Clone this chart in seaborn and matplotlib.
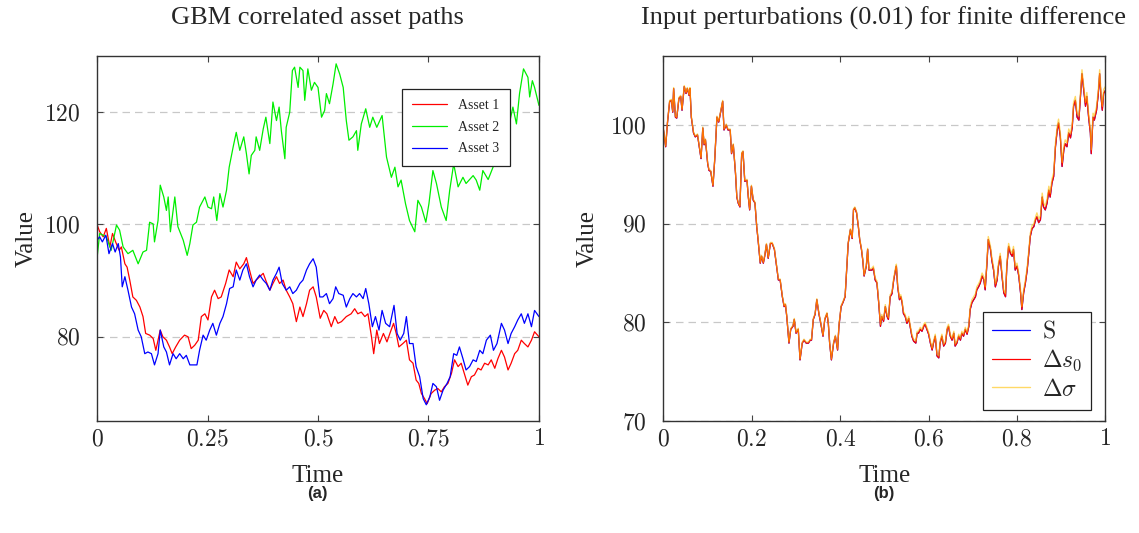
import matplotlib
matplotlib.use("Agg")
import matplotlib.pyplot as plt
import pandas as pd
import seaborn as sns

# ---- (a) correlated GBM paths ----
asset1_t = [0, .006, .014, .021, .029, .035, .042, .050, .055, .063,
            .068, .074, .081, .089, .097, .104, .110, .119, .127, .133,
            .138, .143, .149, .157, .164, .170, .178, .187, .198, .206,
            .213, .221, .229, .236, .244, .251, .259, .266, .274, .281,
            .291, .299, .308, .315, .323, .332, .338, .345, .353, .360,
            .368, .376, .383, .391, .398, .406, .413, .421, .428, .436,
            .443, .451,
            .459, .466, .474, .481, .489, .496, .505, .513, .520, .530,
            .538, .545, .553, .564, .575, .583, .590, .598, .606, .613,
            .621, .626, .633, .639, .648, .656, .664, .671, .677, .683,
            .692, .700, .707, .715, .722, .728, .734, .741, .747, .756,
            .764, .771, .779, .786, .794, .802, .809, .817, .824, .832,
            .839, .847, .854, .862, .869, .877, .885, .892, .900, .907,
            .915, .922, .930, .937, .945, .952, .960, .967, .975, .983,
            .990, 1.0]
asset1_v = [100.0, 98.7, 97.8, 99.3, 96.0, 98.4, 96.9, 95.4, 96.0, 93.0,
            92.4, 90.1, 87.1, 86.5, 85.3, 83.6, 80.6, 80.3, 79.7, 77.6,
            79.4, 81.2, 80.0, 79.4, 78.2, 77.0, 78.2, 79.4, 80.3, 80.0,
            77.9, 78.5, 79.4, 83.6, 84.1, 83.0, 87.1, 88.3, 86.8, 87.1,
            89.5, 91.9, 90.7, 93.3, 92.1, 93.0, 94.1, 91.9, 89.5, 90.1,
            90.7, 91.3, 89.8, 88.3, 89.5, 90.7, 89.5, 90.1, 88.3, 87.1,
            85.9, 82.7,
            85.3, 83.6, 85.9, 88.3, 88.9, 87.1, 83.3, 84.7, 84.1, 81.8,
            83.6, 82.4, 82.7, 83.6, 84.1, 85.0, 84.1, 84.4, 83.6, 84.1,
            80.0, 77.0, 81.2, 78.8, 80.6, 79.1, 80.9, 82.4, 80.6, 78.2,
            78.8, 79.4, 75.9, 75.3, 72.3, 71.7, 69.9, 69.0, 68.1, 69.9,
            70.5, 70.8, 70.2, 71.1, 71.7, 73.5, 75.9, 74.7, 75.3, 73.2,
            71.4, 72.9, 73.2, 74.4, 74.1, 75.3, 75.0, 75.9, 74.4, 76.1,
            77.6, 76.4, 74.1, 75.3, 77.0, 77.6, 79.4, 78.8, 78.2, 79.4,
            80.9, 80.0]

asset2_t = [0, .006, .021, .032, .044, .051, .059, .070, .081, .093,
            .104, .112, .119, .127, .130, .138, .143, .151, .157, .161,
            .166, .176, .183, .195, .204, .210, .217, .225, .232, .244,
            .251, .259, .264, .271, .278, .285, .293, .299, .308, .315,
            .323, .332, .338, .344, .349, .357, .360, .368, .376, .382,
            .391, .398, .406, .412, .417, .425, .428, .436, .442, .447,
            .455,
            .459, .466, .470, .477, .485, .492, .500, .508, .515, .519,
            .526, .534, .541, .549, .557, .564, .570, .579, .587, .590,
            .598, .608, .617, .624, .633, .645, .655, .666, .674, .681,
            .688, .698, .707, .719, .726, .734, .744, .751, .760, .768,
            .779, .790, .798, .807, .817, .828, .835, .851, .858, .866,
            .873, .885, .900, .915, .928, .941, .949, .956, .965, .975,
            .979, .985, .990, 1.0]
asset2_v = [94.0, 98.4, 97.8, 95.4, 99.9, 99.0, 96.0, 94.8, 95.4, 93.0,
            95.1, 95.4, 100.4, 100.1, 96.9, 100.7, 107.0, 104.9, 102.5, 104.9,
            98.7, 104.9, 99.6, 97.2, 94.5, 96.6, 99.9, 100.4, 103.1, 104.9,
            103.1, 102.8, 104.9, 100.7, 105.5, 103.1, 106.1, 110.2, 113.8, 116.4,
            113.2, 115.6, 112.6, 109.0, 112.3, 113.2, 115.6, 113.2, 117.0, 119.1,
            114.4, 121.8, 118.5, 120.9, 116.7, 111.7, 117.3, 120.0, 127.4, 128.0,
            124.4,
            128.0, 127.4, 122.1, 127.7, 123.9, 125.3, 124.4, 119.1, 120.3, 123.3,
            121.5, 125.0, 128.6, 126.8, 124.4, 118.5, 115.0, 115.6, 116.7, 113.2,
            117.9, 120.6, 117.3, 119.1, 117.3, 119.4, 112.0, 108.4, 110.2, 106.7,
            107.9, 103.7, 100.7, 98.7, 104.3, 103.1, 100.4, 103.7, 109.6, 107.3,
            103.1, 100.7, 106.1, 110.8, 106.7, 108.4, 107.3, 108.7, 107.9, 106.1,
            109.6, 108.0, 111.0, 114.0, 116.1, 120.9, 117.9, 123.3, 127.7, 126.2,
            122.7, 125.6, 124.4, 121.2]

asset3_t = [0, .006, .012, .020, .027, .035, .041, .048, .053, .057,
            .063, .070, .078, .085, .093, .100, .108, .115, .123, .130,
            .138, .143, .151, .157, .164, .172, .179, .187, .195, .202,
            .210, .217, .226, .232, .240, .247, .255, .262, .270, .278,
            .285, .293, .300, .308, .315, .323, .330, .338, .345, .353,
            .360, .368, .376, .383, .391, .398, .406, .412, .419, .428,
            .436, .443, .451,
            .459, .466, .474, .481, .489, .496, .504, .511, .519, .526,
            .534, .540, .547, .557, .564, .572, .579, .587, .594, .602,
            .608, .615, .623, .630, .638, .645, .653, .662, .672, .679,
            .686, .694, .700, .707, .715, .722, .730, .738, .745, .753,
            .760, .768, .775, .783, .792, .799, .807, .814, .820, .828,
            .835, .843, .851, .858, .866, .873, .881, .890, .897, .905,
            .915, .922, .930, .937, .945, .952, .960, .967, .975, .983,
            .990, 1.0]
asset3_v = [97.2, 97.8, 96.9, 98.1, 94.8, 96.6, 95.1, 96.6, 94.2, 88.9,
            90.7, 88.3, 85.3, 84.1, 81.2, 80.0, 77.0, 77.3, 77.0, 75.0,
            77.0, 81.2, 78.2, 77.3, 75.0, 77.0, 76.1, 77.0, 76.1, 76.7,
            75.0, 75.0, 75.0, 77.6, 80.3, 79.4, 81.2, 82.4, 80.3, 82.4,
            83.6, 85.9, 88.6, 88.9, 91.9, 90.1, 91.9, 93.0, 90.7, 88.9,
            90.1, 91.0, 90.1, 89.5, 88.3, 90.1, 91.3, 92.4, 89.5, 88.3,
            88.9, 87.7, 88.3,
            89.5, 90.1, 91.9, 93.0, 93.9, 92.4, 87.1, 87.1, 87.7, 85.9,
            86.8, 88.9, 87.7, 87.4, 85.3, 86.8, 87.7, 87.1, 87.7, 86.8,
            88.6, 85.9, 81.8, 83.6, 81.2, 84.7, 82.4, 81.8, 85.6, 80.6,
            79.4, 80.6, 83.6, 78.8, 78.8, 74.7, 72.9, 69.0, 67.9, 69.3,
            71.7, 71.1, 68.7, 70.5, 71.7, 72.9, 77.0, 76.7, 78.2, 76.1,
            74.1, 74.7, 75.9, 75.6, 77.6, 77.0, 79.4, 80.3, 77.6, 78.8,
            82.4, 81.2, 78.8, 80.6, 81.8, 83.0, 84.1, 82.4, 84.1, 81.8,
            84.7, 83.6]

# ---- (b) base path and bumped paths ----
path_t = [0.000, .005, .009, .014, .018, .021, .023, .027, .030, .035,
          .039, .042, .047, .051, .054, .058, .060, .063, .068, .072,
          .077, .081, .085, .089, .092, .095, .100, .103, .107, .112,
          .116, .121, .125, .130, .134, .137, .142, .146, .151, .154,
          .158, .163, .166, .169, .173, .177, .180, .184, .189, .192,
          .195, .199, .203, .207, .211, .214, .219, .222, .226, .229,
          .233, .237, .242, .246, .251, .255, .260, .264, .269, .273,
          .276, .279, .284, .288, .293, .296, .300, .305, .309, .314,
          .318, .323, .328, .332, .335, .339, .343, .347, .352, .356,
          .361, .365, .370, .373, .376, .380, .385, .389, .394, .397,
          .402, .406, .411, .415, .418, .423, .427, .430, .433, .437,
          .441, .444, .448, .451, .454, .459, .462, .465,
          .472, .475, .479, .483, .487, .491, .494, .498, .502, .506,
          .509, .513, .517, .521, .525, .527, .530, .534, .537, .540,
          .543, .547, .551, .555, .558, .562, .566, .571, .574, .577,
          .581, .585, .589, .592, .596, .600, .604, .608, .611, .615,
          .619, .623, .626, .630, .634, .638, .642, .645, .649, .653,
          .657, .660, .664, .668, .672, .675, .679, .683, .687, .691,
          .694, .698, .702, .706, .709, .713, .717, .721, .725, .728,
          .732, .735, .740, .743, .747, .751, .755, .758, .762, .766,
          .770, .774, .777, .781, .785, .789, .792, .796, .800, .804,
          .808, .811, .815, .819, .823, .826, .830, .834, .838, .842,
          .845, .849, .853, .857, .860, .864, .868, .872, .875, .879,
          .883, .887, .891, .894, .898, .902, .906, .909, .913, .917,
          .921, .925, .928, .932, .936, .940, .943, .947, .951, .955,
          .958, .962, .966, .968, .972, .975, .980, .984, .987, .990,
          .993, .996, 1.0]
s_vals = [99.5, 97.8, 100.2, 102.4, 102.5, 101.3, 103.7, 100.8, 100.7, 102.7,
          102.9, 101.5, 103.9, 103.2, 103.7, 103.0, 103.7, 100.8, 99.2, 98.8,
          99.0, 97.8, 96.6, 99.7, 98.0, 98.5, 96.1, 95.4, 95.3, 93.8,
          96.5, 100.8, 100.3, 101.5, 102.4, 99.5, 100.0, 99.5, 99.5, 97.1,
          98.0, 95.1, 92.7, 92.1, 91.7, 97.1, 97.3, 94.3, 94.4, 92.7,
          91.4, 93.8, 92.4, 92.1, 89.7, 88.4, 86.0, 86.7, 86.0, 86.7,
          87.9, 86.5, 88.0, 88.0, 87.4, 86.0, 84.3, 84.3, 82.6, 81.6,
          81.8, 80.6, 77.9, 79.3, 79.6, 80.3, 78.9, 79.3, 76.2, 77.9,
          78.2, 77.9, 77.9, 78.2, 78.2, 80.3, 80.8, 82.3, 80.8, 79.9,
          78.6, 80.3, 80.9, 79.9, 77.9, 76.2, 77.9, 78.6, 77.2, 79.6,
          81.6, 82.0, 82.6, 85.7, 88.0, 89.4, 88.5, 91.4, 91.6, 91.1,
          89.7, 88.4, 87.4, 86.3, 84.7, 85.7, 87.4, 85.3,
          85.3, 85.5, 84.3, 84.0, 82.0, 79.6, 80.6, 80.1, 81.6, 80.6,
          80.3, 82.6, 82.9, 84.3, 85.3, 85.7, 83.6, 82.3, 82.6, 82.0,
          80.9, 80.6, 79.9, 80.4, 79.6, 78.6, 78.1, 77.9, 78.9, 78.9,
          79.3, 79.1, 79.6, 79.8, 79.3, 78.8, 77.9, 77.2, 77.9, 78.6,
          76.6, 76.4, 77.9, 78.6, 77.6, 77.9, 79.3, 79.6, 78.6, 78.2,
          78.9, 77.6, 77.9, 78.6, 78.2, 78.9, 78.6, 79.3, 78.8, 79.6,
          81.3, 82.0, 82.3, 82.6, 83.3, 83.6, 84.0, 84.7, 84.3, 83.3,
          86.0, 88.4, 87.4, 86.3, 85.3, 83.6, 84.3, 85.7, 86.7, 84.7,
          83.0, 82.6, 85.7, 87.7, 87.0, 86.7, 87.4, 85.3, 85.7, 84.7,
          83.0, 81.3, 83.0, 84.0, 85.3, 86.7, 88.7, 89.5, 89.7, 90.4,
          90.7, 90.1, 90.4, 92.7, 91.7, 91.4, 92.1, 93.4, 92.7, 94.1,
          94.8, 97.8, 99.5, 100.2, 98.8, 95.8, 97.5, 98.1, 97.8, 99.2,
          98.7, 99.8, 101.9, 102.5, 100.8, 100.5, 102.5, 105.2, 103.5, 101.9,
          102.9, 100.8, 99.2, 97.1, 100.8, 100.5, 101.5, 103.2, 105.2, 102.9,
          101.5, 103.2, 103.5]
# s0 + 0.01 is indistinguishable from S at this scale
ds0_vals = s_vals
dsigma_vals = [99.6, 97.9, 100.3, 102.5, 102.6, 101.4, 103.8, 100.9, 100.8, 102.8,
               103.0, 101.6, 104.0, 103.3, 103.8, 103.1, 103.8, 100.9, 99.3, 98.9,
               99.1, 97.9, 96.7, 99.8, 98.1, 98.6, 96.2, 95.5, 95.4, 93.9,
               96.6, 100.9, 100.4, 101.6, 102.5, 99.6, 100.1, 99.6, 99.6, 97.2,
               98.1, 95.2, 92.8, 92.2, 91.8, 97.2, 97.4, 94.4, 94.5, 92.8,
               91.5, 93.9, 92.5, 92.2, 89.8, 88.5, 86.1, 86.8, 86.1, 86.8,
               88.0, 86.6, 88.1, 88.1, 87.5, 86.1, 84.4, 84.4, 82.7, 81.7,
               81.9, 80.7, 78.0, 79.4, 79.7, 80.4, 79.0, 79.4, 76.3, 78.0,
               78.3, 78.0, 78.0, 78.3, 78.3, 80.4, 80.9, 82.4, 80.9, 80.0,
               78.7, 80.4, 81.0, 80.0, 78.0, 76.3, 78.0, 78.7, 77.3, 79.7,
               81.7, 82.1, 82.7, 85.8, 88.1, 89.5, 88.6, 91.5, 91.7, 91.2,
               89.8, 88.5, 87.5, 86.4, 84.8, 85.8, 87.5, 85.4,
               85.5, 85.7, 84.5, 84.2, 82.2, 79.8, 80.8, 80.3, 81.8, 80.8,
               80.5, 82.8, 83.1, 84.5, 85.5, 85.9, 83.8, 82.5, 82.8, 82.2,
               81.1, 80.8, 80.1, 80.6, 79.8, 78.8, 78.3, 78.1, 79.1, 79.1,
               79.5, 79.3, 79.8, 80.0, 79.5, 79.0, 78.1, 77.4, 78.1, 78.8,
               76.8, 76.6, 78.1, 78.8, 77.8, 78.1, 79.5, 79.8, 78.8, 78.4,
               79.1, 77.8, 78.1, 78.8, 78.4, 79.1, 78.8, 79.5, 79.0, 79.8,
               81.6, 82.3, 82.6, 82.9, 83.6, 83.9, 84.3, 85.0, 84.6, 83.6,
               86.3, 88.7, 87.7, 86.6, 85.6, 83.9, 84.6, 86.0, 87.0, 85.0,
               83.3, 82.9, 86.0, 88.0, 87.3, 87.0, 87.7, 85.6, 86.0, 85.0,
               83.3, 81.6, 83.3, 84.3, 85.6, 87.0, 89.0, 89.8, 90.0, 90.7,
               91.1, 90.5, 90.8, 93.1, 92.1, 91.8, 92.5, 93.8, 93.1, 94.5,
               95.2, 98.2, 99.9, 100.6, 99.2, 96.2, 97.9, 98.5, 98.2, 99.6,
               99.1, 100.2, 102.3, 102.9, 101.2, 100.9, 102.9, 105.6, 103.9, 102.3,
               103.3, 101.2, 99.6, 97.5, 101.2, 100.9, 101.9, 103.6, 105.6, 103.3,
               101.9, 103.6, 103.9]

left_xticks = [0, 0.25, 0.5, 0.75, 1]
left_xlabels = ["0", "0.25", "0.5", "0.75", "1"]
left_yticks = [80, 100, 120]
right_xticks = [0, 0.2, 0.4, 0.6, 0.8, 1]
right_xlabels = ["0", "0.2", "0.4", "0.6", "0.8", "1"]
right_yticks = [70, 80, 90, 100]

sns.set_style("ticks")
plt.rcParams["font.family"] = ["Liberation Serif", "DejaVu Serif"]
plt.rcParams["mathtext.fontset"] = "cm"

fig = plt.figure(figsize=(11.39, 5.33), dpi=100)
ax1 = fig.add_axes([0.0852, 0.210, 0.388, 0.685])
ax2 = fig.add_axes([0.5825, 0.210, 0.388, 0.685])


def style_axes(ax, xticks, xlabels, yticks):
    ax.set_xticks(xticks)
    ax.set_xticklabels(["$" + s + "$" for s in xlabels])
    ax.set_yticks(yticks)
    ax.set_yticklabels(["$%d$" % v for v in yticks])
    ax.tick_params(direction="in", length=4, width=0.8, top=True, right=True,
                   labelsize=17, color="#444444")
    ax.tick_params(axis="x", pad=6)
    ax.tick_params(axis="y", pad=12)
    for sp in ax.spines.values():
        sp.set_color("#333333")
        sp.set_linewidth(1.0)
    ax.yaxis.grid(True, linestyle=(0, (6, 4)), color="#c8c8c8", linewidth=0.9)
    ax.xaxis.grid(False)
    ax.set_axisbelow(True)
    ax.set_xlabel("Time", fontsize=18)
    ax.set_ylabel("Value", fontsize=18)


left = pd.concat([
    pd.DataFrame({"t": asset1_t, "v": asset1_v, "name": "Asset 1"}),
    pd.DataFrame({"t": asset2_t, "v": asset2_v, "name": "Asset 2"}),
    pd.DataFrame({"t": asset3_t, "v": asset3_v, "name": "Asset 3"}),
])
sns.lineplot(data=left, x="t", y="v", hue="name", ax=ax1, estimator=None,
             sort=False, linewidth=0.9,
             palette={"Asset 1": "#ff0000", "Asset 2": "#00ee00", "Asset 3": "#0000ff"})
ax1.set_xlim(0, 1)
ax1.set_ylim(65, 130)
style_axes(ax1, left_xticks, left_xlabels, left_yticks)
ax1.xaxis.set_label_coords(0.5, -0.12)
ax1.yaxis.set_label_coords(-0.135, 0.5)
leg1 = ax1.legend(loc="upper left", bbox_to_anchor=(0.69, 0.91), fontsize=10,
                  frameon=True, fancybox=False, framealpha=1, edgecolor="#222222",
                  handlelength=2.5, borderpad=0.75, labelspacing=0.62,
                  borderaxespad=0)
leg1.get_frame().set_linewidth(0.9)

sns.lineplot(x=path_t, y=s_vals, ax=ax2, color="#0000ff", linewidth=0.9,
             estimator=None, sort=False, label=r"$\mathrm{S}$")
sns.lineplot(x=path_t, y=ds0_vals, ax=ax2, color="#ff0000", linewidth=0.9,
             estimator=None, sort=False, label=r"$\Delta s_0$")
sns.lineplot(x=path_t, y=dsigma_vals, ax=ax2, color="#ffc000", alpha=0.6,
             linewidth=1.0, estimator=None, sort=False, label=r"$\Delta\sigma$")
ax2.set_xlim(0, 1)
ax2.set_ylim(70, 107)
style_axes(ax2, right_xticks, right_xlabels, right_yticks)
ax2.xaxis.set_label_coords(0.5, -0.12)
ax2.yaxis.set_label_coords(-0.147, 0.5)
leg2 = ax2.legend(loc="lower right", bbox_to_anchor=(0.968, 0.03), fontsize=17,
                  frameon=True, fancybox=False, framealpha=1, edgecolor="#222222",
                  handlelength=1.6, borderpad=0.4, labelspacing=0.22,
                  handletextpad=0.5, borderaxespad=0)
leg2.get_frame().set_linewidth(0.9)

fig.text(0.279, 0.966, "GBM correlated asset paths", ha="center", va="center",
         fontsize=19)
fig.text(0.776, 0.966, "Input perturbations (0.01) for finite difference",
         ha="center", va="center", fontsize=19)
fig.text(0.279, 0.074, "(a)", ha="center", va="center", fontsize=12,
         fontweight="bold", family="Liberation Sans")
fig.text(0.776, 0.074, "(b)", ha="center", va="center", fontsize=12,
         fontweight="bold", family="Liberation Sans")

fig.savefig("out.png", dpi=100)
